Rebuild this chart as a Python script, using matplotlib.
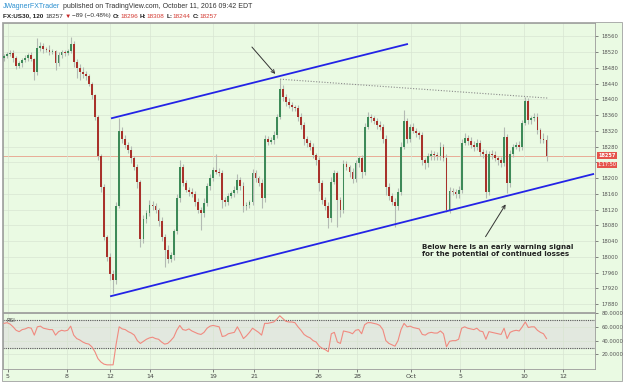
import numpy as np
import matplotlib
matplotlib.use("Agg")
import matplotlib.pyplot as plt
from matplotlib.patches import Rectangle

# ---- data (2h bars, FX:US30, 5 Sep - 11 Oct 2016) ----
first_open = 18505
closes = [
    18510, 18515, 18518, 18505, 18485, 18492, 18500, 18505, 18512, 18502,
    18468, 18530, 18535, 18528, 18525, 18520, 18522, 18492, 18512, 18520,
    18518, 18522, 18540, 18495, 18480, 18470, 18465, 18458, 18440, 18410,
    18355, 18255, 18177, 18050, 18000, 17955, 17940, 18130, 18320, 18300,
    18285, 18272, 18250, 18228, 18190, 18045, 18095, 18110, 18132, 18128,
    18118, 18090, 18050, 18018, 17995, 18005, 18065, 18150, 18228, 18188,
    18170, 18165, 18160, 18140, 18120, 18110, 18136, 18180, 18200, 18220,
    18215, 18213, 18145, 18140, 18155, 18162, 18170, 18195, 18180, 18128,
    18132, 18138, 18212, 18200, 18188, 18150, 18300, 18292, 18296, 18310,
    18355, 18425, 18405, 18392, 18385, 18380, 18378, 18356, 18335, 18300,
    18288, 18280, 18258, 18246, 18188, 18145, 18128, 18098, 18190, 18213,
    18145, 18120, 18235, 18228, 18215, 18198, 18238, 18250, 18215, 18330,
    18355, 18352, 18345, 18335, 18330, 18300, 18178, 18155, 18140, 18128,
    18165, 18280, 18345, 18300, 18330, 18320, 18314, 18308, 18246, 18238,
    18255, 18262, 18258, 18255, 18280, 18252, 18120, 18168, 18165, 18160,
    18170, 18290, 18302, 18295, 18285, 18280, 18290, 18265, 18262, 18165,
    18262, 18258, 18250, 18245, 18238, 18305, 18188, 18262, 18280, 18284,
    18278, 18340, 18395, 18348, 18352, 18356, 18322, 18300, 18296, 18257,
]
# wick length above / below the candle body
wick_up = [
    6, 5, 8, 6, 4, 5, 6, 8, 5, 7,
    4, 25, 10, 8, 6, 12, 6, 4, 8, 6,
    5, 6, 18, 8, 6, 10, 12, 8, 6, 5,
    4, 6, 5, 8, 6, 10, 12, 8, 33, 10,
    8, 6, 10, 6, 8, 5, 10, 8, 12, 10,
    8, 6, 10, 8, 12, 8, 6, 10, 18, 8,
    6, 8, 10, 6, 8, 6, 12, 8, 10, 8,
    40, 10, 8, 6, 8, 6, 10, 14, 8, 10,
    8, 6, 10, 8, 6, 10, 8, 6, 8, 10,
    8, 27, 10, 8, 12, 8, 6, 8, 10, 8,
    6, 8, 10, 6, 8, 6, 8, 10, 12, 8,
    6, 8, 10, 8, 6, 10, 8, 6, 8, 10,
    13, 8, 6, 8, 10, 6, 8, 10, 6, 8,
    10, 12, 28, 8, 6, 10, 8, 6, 8, 6,
    8, 10, 6, 8, 12, 6, 8, 10, 6, 8,
    10, 8, 12, 6, 8, 10, 8, 6, 8, 10,
    6, 8, 10, 6, 8, 25, 8, 10, 6, 8,
    10, 8, 11, 8, 6, 10, 8, 6, 14, 12,
]
wick_dn = [
    8, 6, 5, 10, 8, 6, 10, 6, 8, 6,
    18, 6, 8, 10, 6, 8, 5, 18, 8, 6,
    8, 6, 5, 12, 25, 20, 10, 8, 6, 10,
    8, 10, 12, 8, 10, 15, 32, 10, 6, 12,
    10, 8, 12, 8, 15, 20, 10, 8, 6, 10,
    8, 12, 10, 43, 10, 8, 12, 6, 10, 8,
    6, 10, 8, 12, 10, 42, 8, 6, 10, 8,
    6, 8, 20, 10, 8, 6, 10, 8, 10, 15,
    10, 8, 6, 10, 8, 25, 10, 8, 6, 10,
    8, 6, 10, 8, 6, 10, 8, 12, 10, 15,
    8, 10, 8, 12, 20, 10, 8, 25, 10, 6,
    70, 20, 10, 8, 12, 10, 8, 10, 15, 8,
    6, 10, 8, 10, 8, 12, 20, 10, 8, 53,
    10, 8, 6, 10, 8, 6, 10, 8, 12, 15,
    10, 8, 12, 10, 8, 10, 6, 10, 8, 12,
    10, 8, 6, 10, 8, 12, 10, 8, 10, 15,
    8, 10, 6, 12, 10, 8, 26, 10, 8, 6,
    10, 8, 6, 12, 10, 8, 10, 12, 8, 13,
]
rsi = [
    65, 66, 64, 60, 55, 53, 56, 57, 59, 58,
    48, 60, 61, 58, 57, 56, 56, 48, 53, 55,
    54, 55, 61, 48, 43, 41, 38, 36, 35, 31,
    24, 14, 9, 6, 5, 5, 5, 35, 60, 57,
    56, 53, 51, 48, 40, 36, 39, 42, 44, 45,
    43, 42, 38, 35, 36, 40, 45, 55, 62, 56,
    55, 57, 54, 52, 50, 49, 52, 58, 61, 62,
    61, 60, 46, 47, 50, 51, 52, 60, 52, 43,
    47, 52, 58, 55, 52, 48, 65, 65, 66, 67,
    71, 76, 72, 68, 67, 67, 66, 60, 55, 49,
    46, 44, 40, 38, 32, 29, 27, 24, 50, 52,
    38, 36, 54, 53, 52, 50, 55, 56, 50, 63,
    66, 66, 65, 64, 62, 56, 40, 36, 34, 32,
    40, 56, 65, 60, 61, 59, 58, 57, 49, 48,
    51, 52, 51, 51, 54, 50, 31, 39, 40, 40,
    42, 58, 60, 58, 57, 56, 58, 54, 53, 42,
    53, 52, 51, 50, 49, 58, 43, 52, 54, 55,
    54, 60, 67, 59, 60, 60, 55, 52, 50, 43,
]
day_labels = ["5", "8", "12", "14", "19", "21", "26", "28", "Oct", "5", "10", "12"]
day_pos = [1.3, 20.8, 35, 48.2, 69, 82.5, 103.6, 116.5, 134.3, 150.5, 171.6, 184.5]
price_ticks = list(range(17880, 18561, 40))

# drawn trendlines: (bar, price) endpoints
channel_top = [(35.6, 18352), (133, 18540)]
channel_bottom = [(35.3, 17900), (194.4, 18210)]
highs_line = [(91.1, 18451), (179.5, 18403)]
last_price = 18257

BG = "#eafae3"
GREEN = "#3d8a58"
RED = "#a8322b"
W, H = 624, 382

fig = plt.figure(figsize=(W / 100, H / 100), dpi=100)
renderer = fig.canvas.get_renderer()


def fx(px):
    return px / W


def fy(py):
    return 1 - py / H


fig.add_artist(Rectangle((fx(2), fy(381)), fx(620), (381 - 22) / H,
                         transform=fig.transFigure, facecolor=BG,
                         edgecolor="#a0a0a0", lw=0.6, zorder=0))


def header_run(x, y, parts, size):
    for s, color, weight, gap in parts:
        t = fig.text(fx(x), fy(y), s, color=color, fontsize=size,
                     fontweight=weight, va="center", ha="left",
                     family=["Liberation Sans", "DejaVu Sans"])
        x = t.get_window_extent(renderer).x1 + gap


header_run(3, 6, [("JWagnerFXTrader", "#2a8fd0", "normal", 2.5),
                  ("published on TradingView.com, October 11, 2016 09:42 EDT",
                   "#333333", "normal", 0)], 5.0)
header_run(3, 16, [("FX:US30, 120", "#222222", "bold", 2),
                   ("18257", "#333333", "normal", 1.5),
                   ("▼", "#c62828", "normal", 1.5),
                   ("−89 (−0.48%)", "#333333", "normal", 2),
                   ("O:", "#222222", "bold", 0.2),
                   ("18296", "#d33a32", "normal", 2),
                   ("H:", "#222222", "bold", 0.2),
                   ("18308", "#d33a32", "normal", 2),
                   ("L:", "#222222", "bold", 0.2),
                   ("18244", "#d33a32", "normal", 2),
                   ("C:", "#222222", "bold", 0.2),
                   ("18257", "#d33a32", "normal", 0)], 4.6)

# ---- main price panel ----
ax = fig.add_axes([fx(3), fy(312), (595 - 3) / W, (312 - 23) / H])
ax.set_facecolor(BG)
c = np.array(closes, dtype=float)
o = np.array([first_open] + closes[:-1], dtype=float)
x = np.arange(len(c))
top = np.maximum(o, c)
bot = np.minimum(o, c)
hi = top + np.array(wick_up)
lo = bot - np.array(wick_dn)
ax.vlines(x, lo, hi, color="#b3bab3", lw=0.8, zorder=2)
ax.bar(x, np.maximum(top - bot, 2), bottom=bot, width=0.6,
       color=np.where(c >= o, GREEN, RED), lw=0, zorder=3)

ax.axhline(last_price, color="#e8a08a", lw=0.6, zorder=1)
for pts in (channel_top, channel_bottom):
    (x0, y0), (x1, y1) = pts
    ax.plot([x0, x1], [y0, y1], color="#2323e6", lw=1.3, zorder=4)
(x0, y0), (x1, y1) = highs_line
ax.plot([x0, x1], [y0, y1], color="#8a8a8a", lw=0.8, ls=(0, (1, 1.5)), zorder=4)

ax.annotate("", xy=(90.1, 18459), xytext=(81.2, 18538),
            arrowprops=dict(arrowstyle="->", color="#333333", lw=0.7,
                            mutation_scale=6), zorder=5)
ax.annotate("", xy=(166, 18139), xytext=(158.4, 18045),
            arrowprops=dict(arrowstyle="->", color="#333333", lw=0.7,
                            mutation_scale=6), zorder=5)
ax.text(138, 18032, "Below here is an early warning signal\n"
        "for the potential of continued losses",
        fontsize=5.1, fontweight="bold", color="#222222", va="top",
        ha="left", linespacing=1.15, zorder=5)

ax.set_xlim(-0.33, 195.0)
ax.set_ylim(17859.7, 18593.7)
ax.yaxis.tick_right()
ax.set_yticks(price_ticks)
# the 18240 label sits under the last-price tags, as on the original
ax.set_yticklabels(["" if abs(p - last_price) < 20 else str(p) for p in price_ticks])
ax.set_xticks(day_pos)
ax.set_xticklabels([])
ax.tick_params(axis="x", length=0)
ax.tick_params(axis="y", length=2, width=0.5, pad=2.5, labelsize=3.8,
               colors="#555555")
ax.grid(True, color="#d8e5d2", lw=0.5, zorder=0)
for s in ax.spines.values():
    s.set_color("#9a9a9a")
    s.set_linewidth(0.6)

# price tags on the axis
tag = dict(boxstyle="square,pad=0.18", fc="#e5534b", ec="none")
fig.text(fx(607), fy(155.5), "18257", fontsize=3.6, color="white",
         fontweight="bold", ha="center", va="center", bbox=tag)
fig.text(fx(607), fy(165), "1:17:50", fontsize=3.6, color="white",
         ha="center", va="center", bbox=tag)

# ---- RSI panel ----
ax2 = fig.add_axes([fx(3), fy(369), (595 - 3) / W, (369 - 313) / H])
ax2.set_facecolor(BG)
ax2.axhspan(30, 70, color="#e2e8df", zorder=0.5)
ax2.axhline(70, color="#555555", lw=0.8, ls=(0, (1, 1)), zorder=2)
ax2.axhline(30, color="#555555", lw=0.8, ls=(0, (1, 1)), zorder=2)
ax2.plot(x, rsi, color="#f08a80", lw=0.8, zorder=3)
ax2.text(0.006, 0.86, "RSI", transform=ax2.transAxes, fontsize=4,
         color="#444444", va="center")
ax2.set_xlim(-0.33, 195.0)
ax2.set_ylim(-1, 80)
ax2.yaxis.tick_right()
ax2.set_yticks([20, 40, 60, 80])
ax2.set_yticklabels(["20.0000", "40.0000", "60.0000", "80.0000"])
ax2.set_xticks(day_pos)
ax2.set_xticklabels(day_labels)
ax2.tick_params(axis="y", length=2, width=0.5, pad=2.5, labelsize=3.8,
                colors="#555555")
ax2.tick_params(axis="x", length=2, width=0.5, pad=1.5, labelsize=4.5,
                colors="#444444")
ax2.grid(True, color="#d8e5d2", lw=0.5, zorder=0)
for s in ax2.spines.values():
    s.set_color("#9a9a9a")
    s.set_linewidth(0.6)

fig.savefig("out.png", dpi=100)
